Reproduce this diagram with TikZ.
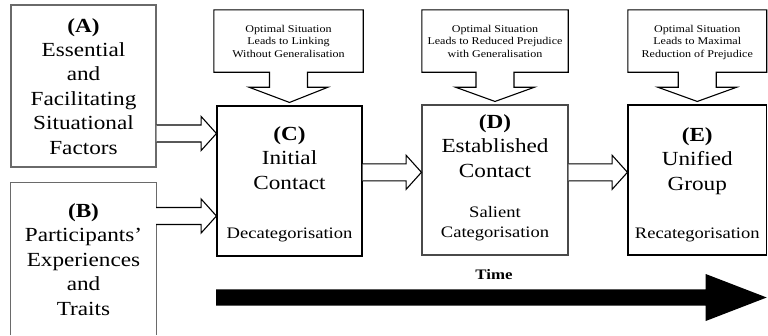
\documentclass[tikz,border=0pt]{standalone}
\usepackage{fontspec}
\setmainfont{Liberation Serif}[FakeStretch=1.16]
\usetikzlibrary{calc}
\definecolor{boxgray}{HTML}{6A6A6A}
\definecolor{boxdark}{HTML}{4A4A4A}
\tikzset{
  box/.style={draw, line width=1.1pt, inner sep=0pt, minimum width=#1},
  txt/.style={align=center, inner sep=0pt, anchor=base, font=\fontsize{20}{24.4}\selectfont},
  sub/.style={align=center, inner sep=0pt, anchor=base, font=\fontsize{16}{20}\selectfont},
  ctxt/.style={align=center, inner sep=0pt, anchor=base, font=\fontsize{10.4}{12.5}\selectfont},
  callout/.style={draw=black, line width=1.1pt, fill=white, line join=miter},
  blockarrow/.style={draw=black, line width=1.1pt, fill=white, line join=miter},
}
\newcommand\myblockarrow[3]{%
  \path[blockarrow] ($(#1.east |- 0,#3)+(0,-8.5)$) -- ($(#2.west |- 0,#3)+(-15.3,-8.5)$)
    -- ($(#2.west |- 0,#3)+(-15.3,-17)$) -- (#2.west |- 0,#3)
    -- ($(#2.west |- 0,#3)+(-15.3,17)$) -- ($(#2.west |- 0,#3)+(-15.3,8.5)$)
    -- ($(#1.east |- 0,#3)+(0,8.5)$);}
\newcommand\mycallout[2]{%
  \path[callout] (#1.north west) -- (#1.north east) -- (#1.south east)
    -- ($(#1.south)+(19,0)$) -- ($(#1.south)+(19,15)$) -- ($(#1.south)+(39.5,15)$)
    -- ($(#2.north)+(0,-3)$)
    -- ($(#1.south)+(-39.5,15)$) -- ($(#1.south)+(-19,15)$) -- ($(#1.south)+(-19,0)$)
    -- (#1.south west) -- cycle;}
\begin{document}
\begin{tikzpicture}[x=1pt,y=-1pt]
\useasboundingbox (0,0) rectangle (768,335);
% main boxes
\node[box=145pt, minimum height=162pt, draw=boxgray] (A) at (83.5,86) {};
\node[inner sep=0pt, minimum width=145pt, minimum height=162pt] (B) at (83.5,264) {};
\draw[line width=1.1pt, boxgray] (B.west |- 0,335) -- (B.north west) -- (B.north east) -- (B.east |- 0,335);
\node[box=145pt, minimum height=150pt, draw=black] (C) at (289.5,181) {};
\node[box=146pt, minimum height=150pt, draw=boxdark] (D) at (495,180) {};
\node[box=138.5pt, minimum height=150pt, draw=black] (E) at (697.25,180) {};
% texts (anchor = baseline of last line)
\node[txt] (At) at (83.5,154) {\textbf{(A)}\\Essential\\and\\Facilitating\\Situational\\Factors};
\node[txt] (Bt) at (83.5,315) {\textbf{(B)}\\Participants’\\Experiences\\and\\Traits};
\node[txt] (Ct) at (289.5,189) {\textbf{(C)}\\Initial\\Contact};
\node[sub] (Cs) at (289.5,238) {Decategorisation};
\node[txt] (Dt) at (495,177) {\textbf{(D)}\\Established\\Contact};
\node[sub] (Ds) at (495,237.5) {Salient\\Categorisation};
\node[txt] (Et) at (697.25,190) {\textbf{(E)}\\Unified\\Group};
\node[sub] (Es) at (697.25,238) {Recategorisation};
% callouts
\node[inner sep=0pt, minimum width=149pt, minimum height=62pt] (c1) at (288.5,41) {};
\node[inner sep=0pt, minimum width=146pt, minimum height=62pt] (c2) at (495,41) {};
\node[inner sep=0pt, minimum width=138.5pt, minimum height=62pt] (c3) at (697.25,41) {};
\mycallout{c1}{C}
\mycallout{c2}{D}
\mycallout{c3}{E}
\node[ctxt] (c1t) at (288.5,57) {Optimal Situation\\Leads to Linking\\Without Generalisation};
\node[ctxt] (c2t) at (495,57) {Optimal Situation\\Leads to Reduced Prejudice\\with Generalisation};
\node[ctxt] (c3t) at (697.25,57) {Optimal Situation\\Leads to Maximal\\Reduction of Prejudice};
% block arrows
\myblockarrow{A}{C}{133.5}
\myblockarrow{B}{C}{216}
\myblockarrow{C}{D}{172.3}
\myblockarrow{D}{E}{172.3}
% time arrow
\coordinate (ts) at (216,297.5);
\coordinate (te) at (766.7,297.5);
\fill[black] ($(ts)+(0,-8.2)$) -- ($(te)+(-61,-8.2)$) -- ($(te)+(-61,-23.5)$) -- (te)
  -- ($(te)+(-61,23.5)$) -- ($(te)+(-61,8.2)$) -- ($(ts)+(0,8.2)$) -- cycle;
\node[inner sep=0pt, anchor=base, font=\fontsize{14.5}{17}\selectfont\bfseries] (time) at (494,279) {Time};
\end{tikzpicture}
\end{document}
